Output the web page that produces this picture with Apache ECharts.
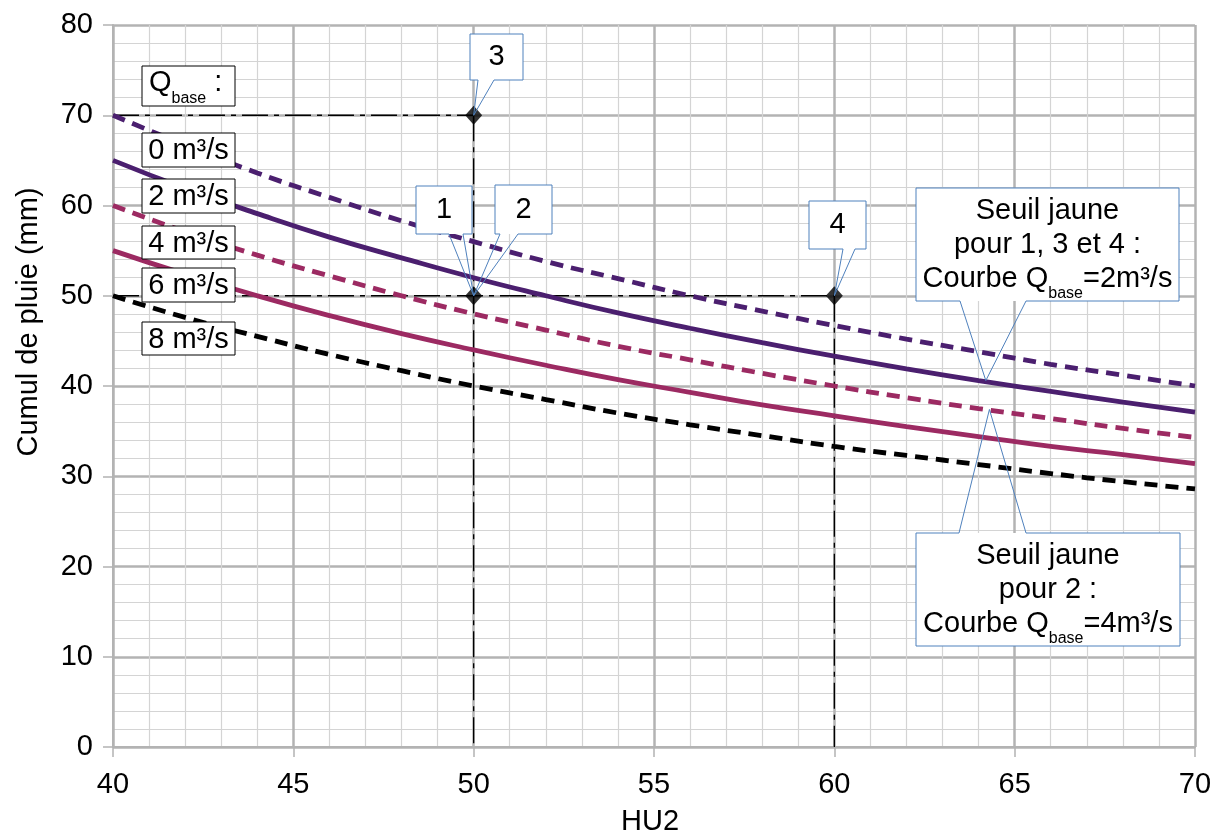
<!DOCTYPE html>
<html><head><meta charset="utf-8">
<script src="https://cdn.jsdelivr.net/npm/echarts@6/dist/echarts.min.js"></script>
<style>html,body{margin:0;padding:0;background:#fff}#c{width:1218px;height:833px}</style>
</head><body><div id="c"></div>
<script>
// ---- data ----
const hu2 = [40,42,44,46,48,50,52,54,56,58,60,62,64,66,68,70];
const q0 = [70,66.7,63.6,60.9,58.3,56,53.8,51.9,50,48.3,46.7,45.2,43.8,42.4,41.2,40];
const q2 = [65,61.9,59.1,56.5,54.2,52,50,48.1,46.4,44.8,43.3,41.9,40.6,39.4,38.2,37.1];
const q4 = [60,57.1,54.5,52.2,50,48,46.2,44.4,42.9,41.4,40,38.7,37.5,36.4,35.3,34.3];
const q6 = [55,52.4,50,47.8,45.8,44,42.3,40.7,39.3,37.9,36.7,35.5,34.4,33.3,32.4,31.4];
const q8 = [50,47.6,45.5,43.5,41.7,40,38.5,37,35.7,34.5,33.3,32.3,31.3,30.3,29.4,28.6];
const qLabels = ['0 m³/s','2 m³/s','4 m³/s','6 m³/s','8 m³/s'];
const points = [[50,70],[50,50],[60,50]];
const refLines = [
  [[40,70],[50,70]],
  [[50,70],[50,0]],
  [[40,50],[60,50]],
  [[60,50],[60,0]]
];
const seuilTips = [[64.2,40.6],[64.3,37.4]];
const xName = 'HU2';
const yName = 'Cumul de pluie (mm)';

const FONT = "'Liberation Sans', Arial, sans-serif";
const FS = 29;
const PURPLE = '#4b1f6f';
const MAGENTA = '#9c2a62';
const pairs = v => hu2.map((x,i)=>[x,v[i]]);

const chart = echarts.init(document.getElementById('c'), null, {renderer:'canvas'});

function curve(name, vals, color, dashed){
  return {name, type:'line', data:pairs(vals), smooth:true, symbol:'none', z:3,
    lineStyle:{color, width:4.8, type: dashed ? [13,8] : 'solid', cap:'butt'}};
}
const refSeries = refLines.map(seg=>({
  type:'line', data:seg, symbol:'none', z:2, silent:true,
  lineStyle:{color:'#000', width:1.3, type:[26,6,5,6]}
}));
const axisCommon = {
  axisLine:{show:true, lineStyle:{color:'#b3b3b3', width:2}},
  axisTick:{show:true, length:10, lineStyle:{color:'#b3b3b3', width:1.5}},
  minorTick:{show:false, splitNumber:5},
  splitLine:{show:true, lineStyle:{color:'#b3b3b3', width:2.5}},
  minorSplitLine:{show:true, lineStyle:{color:'#d4d4d4', width:1.2}}
};

chart.setOption({
  animation:false,
  backgroundColor:'#fff',
  grid:{left:113, right:23, top:25, bottom:86, containLabel:false, outerBoundsMode:'none'},
  xAxis:Object.assign({type:'value', min:40, max:70, interval:5, name:xName, nameLocation:'middle', nameGap:60,
    nameTextStyle:{fontSize:FS, color:'#000', fontFamily:FONT, padding:[0,8,0,0]},
    axisLabel:{fontSize:FS, color:'#000', fontFamily:FONT, margin:23}}, axisCommon),
  yAxis:Object.assign({type:'value', min:0, max:80, interval:10, name:yName, nameLocation:'middle', nameGap:70,
    nameTextStyle:{fontSize:FS, color:'#000', fontFamily:FONT, padding:[0,0,0,128]},
    axisLabel:{fontSize:FS, color:'#000', fontFamily:FONT, margin:20}}, axisCommon),
  series:[
    ...refSeries,
    curve('0', q0, PURPLE, true),
    curve('2', q2, PURPLE, false),
    curve('4', q4, MAGENTA, true),
    curve('6', q6, MAGENTA, false),
    curve('8', q8, '#000', true),
    {type:'scatter', data:points, symbol:'diamond', symbolSize:[17,19], z:5,
     itemStyle:{color:'#000'}}
  ]
});

// ---- annotations ----
const px = p => chart.convertToPixel({gridIndex:0}, p);
const BLUE = '#4f81bd';
const rich = {
  n:{fontSize:FS, fontFamily:FONT, color:'#000', lineHeight:34},
  s:{fontSize:16, fontFamily:FONT, color:'#000', lineHeight:16, padding:[31,0,0,0]}
};
const graphics = [];

function callout(box, base, tip, lines, down){
  const [l,t,r,b] = box;
  const pts = down
    ? [[l,t],[r,t],[r,b],[base[1],b],tip,[base[0],b],[l,b]]
    : [[l,b],[l,t],[base[0],t],tip,[base[1],t],[r,t],[r,b]];
  graphics.push({type:'rect', shape:{x:l,y:t,width:r-l,height:b-t}, z:10,
    style:{fill:'#fff', stroke:null}});
  graphics.push({type:'polygon', shape:{points:pts}, z:11,
    style:{fill:null, stroke:BLUE, lineWidth:1}});
  const lh = 34;
  const y0 = (t+b)/2 - (lines.length-1)*lh/2;
  lines.forEach((txt,i)=>{
    graphics.push({type:'text', x:(l+r)/2, y:y0+i*lh, z:12,
      style:{text:txt, rich, align:'center', verticalAlign:'middle', font:FS+'px '+FONT}});
  });
}
const callouts = [
  {box:[470,34,523,80], base:[478,494], tip:px(points[0]), lines:['{n|3}'], down:true},
  {box:[416,186,472,234], base:[449,463], tip:px(points[1]), lines:['{n|1}'], down:true},
  {box:[495,185,552,234], base:[500,518], tip:px(points[1]), lines:['{n|2}'], down:true},
  {box:[809,201,866,249], base:[843,855], tip:px(points[2]), lines:['{n|4}'], down:true},
  {box:[916,188,1179,301], base:[960,1026], tip:px(seuilTips[0]),
   lines:['{n|Seuil jaune}','{n|pour 1, 3 et 4 :}','{n|Courbe Q}{s|base}{n|=2m³/s}'], down:true},
  {box:[916,533,1180,646], base:[959,1026], tip:px(seuilTips[1]),
   lines:['{n|Seuil jaune}','{n|pour 2 :}','{n|Courbe Q}{s|base}{n|=4m³/s}'], down:false}
];
callouts.forEach(c=>callout(c.box,c.base,c.tip,c.lines,c.down));

// legend-like labels
const labelRects = [[142,133,93,34],[142,179,93,34],[142,226,93,33],[142,268,93,34],[142,322,93,33]];
graphics.push({type:'rect', shape:{x:142,y:66,width:93,height:40}, z:10,
  style:{fill:'#fff', stroke:'#000', lineWidth:1}});
graphics.push({type:'text', x:149, y:83, z:11,
  style:{text:'{n|Q}{s|base}{n| :}', rich, align:'left', verticalAlign:'middle', font:FS+'px '+FONT}});
qLabels.forEach((t,i)=>{
  const [x,y,w,h] = labelRects[i];
  graphics.push({type:'rect', shape:{x,y,width:w,height:h}, z:10,
    style:{fill:'#fff', stroke:'#000', lineWidth:1}});
  graphics.push({type:'text', x:x+w/2, y:y+h/2+1, z:11,
    style:{text:t, fill:'#000', align:'center', verticalAlign:'middle', font:FS+'px '+FONT}});
});
chart.setOption({graphic:graphics});
</script>
</body></html>
